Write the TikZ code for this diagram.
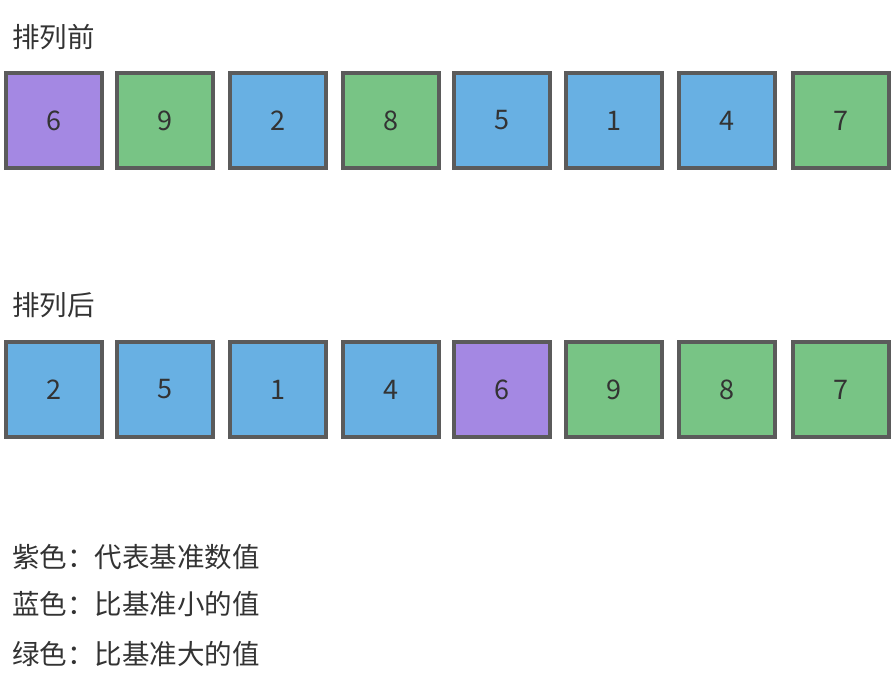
\documentclass[tikz,border=0pt]{standalone}
\usepackage{fontspec}
\setmainfont{Noto Sans CJK SC}
\definecolor{pur}{HTML}{A488E3}
\definecolor{grn}{HTML}{78C485}
\definecolor{blu}{HTML}{68B0E3}
\definecolor{brd}{HTML}{5B5B5B}
\definecolor{txt}{HTML}{333333}
\begin{document}
\begin{tikzpicture}[x=1pt,y=-1pt,
  cell/.style={draw=brd,line width=3.5pt,minimum width=96pt,minimum height=95pt,inner sep=0pt,text=txt,font=\fontsize{27}{32}\selectfont},
  lbl/.style={anchor=west,inner sep=0pt,text=txt,font=\fontsize{27.5}{32}\selectfont}]
\useasboundingbox (0,0) rectangle (895,691);
\node[lbl] (t1) at (12,37) {排列前};
\node[lbl] (t2) at (12,305) {排列后};
\foreach \i/\x/\v/\c in {1/54/6/pur,2/165/9/grn,3/278/2/blu,4/391/8/grn,5/502/5/blu,6/614/1/blu,7/727/4/blu,8/841/7/grn}{
  \node[cell,fill=\c] (a\i) at (\x,120.5) {\v};
}
\foreach \i/\x/\v/\c in {1/54/2/blu,2/165/5/blu,3/278/1/blu,4/391/4/blu,5/502/6/pur,6/614/9/grn,7/727/8/grn,8/841/7/grn}{
  \node[cell,fill=\c] (b\i) at (\x,389.5) {\v};
}
\node[lbl] (l1) at (12,557) {紫色：代表基准数值};
\node[lbl] (l2) at (12,604) {蓝色：比基准小的值};
\node[lbl] (l3) at (12,654) {绿色：比基准大的值};
\end{tikzpicture}
\end{document}
